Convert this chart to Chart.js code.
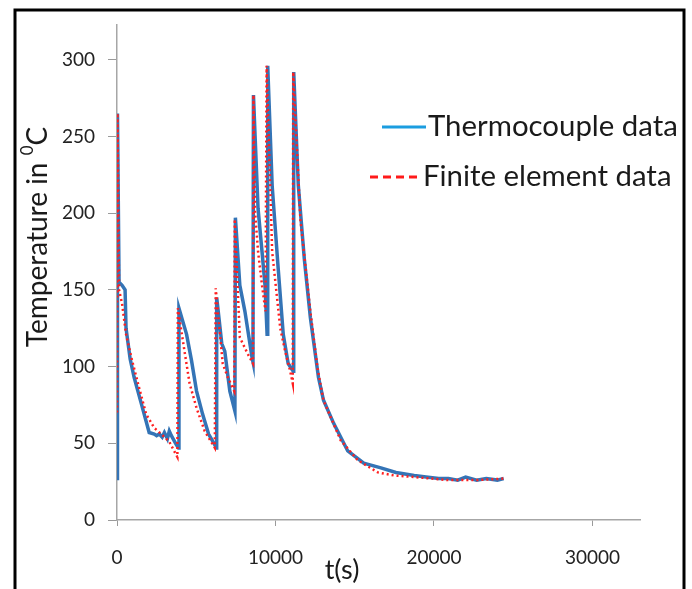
<!DOCTYPE html>
<html>
<head>
<meta charset="utf-8">
<script src="https://cdn.jsdelivr.net/npm/chart.js@4/dist/chart.umd.min.js"></script>
<style>
  html, body { margin: 0; padding: 0; background: #fff; }
  #wrap { width: 692px; height: 589px; position: relative; }
</style>
</head>
<body>
<div id="wrap"><canvas id="tempChart" width="692" height="589"></canvas></div>
<script>
// thermocouple measurements (time in s, temperature in C)
const tcTime = [0, 20, 40, 130, 320, 510, 570, 830, 1080, 1530,
  2030, 2350, 2500, 2670, 2850, 2990, 3180, 3300, 3430, 3750,
  3880, 3910, 4390, 4700, 5020, 5400, 5780, 6170, 6260, 6290,
  6610, 6800, 7120, 7440, 7470, 7750, 8070, 8520, 8580, 8610,
  8710, 8900, 9150, 9340, 9470, 9510, 9790, 10170, 10490, 10800,
  11120, 11150, 11440, 11820, 12200, 12710, 13030, 13670, 14560, 15570,
  16650, 17600, 18750, 19500, 20300, 20910, 21500, 22000, 22690, 23300,
  24000, 24400];
const tcTemp = [27, 186, 265, 155, 153, 150, 125, 105, 93, 76,
  57, 56, 55, 56, 54, 57, 53, 58, 55, 49,
  47, 138, 121, 104, 84, 69, 56, 49, 47, 145,
  115, 110, 84, 71, 197, 153, 136, 106, 103, 277,
  251, 203, 175, 153, 121, 296, 218, 164, 121, 102,
  97, 292, 218, 170, 132, 93, 78, 63, 45, 37,
  34, 31, 29, 28, 27, 27, 26, 28, 26, 27,
  26, 27];

// finite element results
const feTime = [0, 30, 130, 320, 570, 950, 1400, 1840, 2350, 2800,
  3300, 3810, 3840, 4260, 4580, 5020, 5530, 6170, 6230, 6670,
  6990, 7400, 7430, 7750, 8260, 8580, 8610, 8710, 8900, 9150,
  9370, 9440, 9790, 10300, 10610, 10930, 11090, 11120, 11570, 12200,
  12650, 13030, 14110, 15190, 16460, 17500, 18750, 20910, 22700, 24400];
const feTemp = [70, 265, 150, 141, 121, 104, 86, 69, 60, 56,
  51, 41, 138, 110, 89, 73, 58, 47, 151, 102,
  93, 84, 196, 119, 108, 102, 277, 201, 175, 153,
  136, 296, 175, 125, 110, 97, 89, 292, 196, 136,
  99, 78, 52, 39, 31, 29, 28, 26, 26, 27];

const xTicks = [0, 10000, 20000, 30000];
const yTicks = [0, 50, 100, 150, 200, 250, 300];
const seriesNames = ['Thermocouple data', 'Finite element data'];

const toPoints = (xs, ys) => xs.map((x, i) => ({ x: x, y: ys[i] }));

const FONT = 'Lato, "Liberation Sans", sans-serif';

// frame, axis titles and legend drawn on top
const decorations = {
  id: 'decorations',
  afterDraw(chart) {
    const ctx = chart.ctx;
    ctx.save();
    // black frame
    ctx.strokeStyle = '#000';
    ctx.lineWidth = 3;
    ctx.beginPath();
    ctx.moveTo(15, 589);
    ctx.lineTo(15, 10);
    ctx.lineTo(684, 10);
    ctx.lineTo(684, 589);
    ctx.stroke();

    ctx.fillStyle = '#1a1a1a';
    ctx.textBaseline = 'middle';

    // x title
    ctx.font = '27px ' + FONT;
    ctx.textAlign = 'center';
    ctx.fillText('t(s)', 342, 570);

    // y title with superscript
    ctx.save();
    ctx.translate(38, 237);
    ctx.rotate(-Math.PI / 2);
    ctx.textAlign = 'left';
    const main = 'Temperature in ';
    ctx.font = '28px ' + FONT;
    const w1 = ctx.measureText(main).width;
    const w3 = ctx.measureText('C').width;
    ctx.font = '17px ' + FONT;
    const w2 = ctx.measureText('0').width;
    let x0 = -(w1 + w2 + w3) / 2;
    ctx.font = '28px ' + FONT;
    ctx.fillText(main, x0, 0);
    ctx.font = '17px ' + FONT;
    ctx.fillText('0', x0 + w1, -10);
    ctx.font = '28px ' + FONT;
    ctx.fillText('C', x0 + w1 + w2, 0);
    ctx.restore();

    // legend
    ctx.textAlign = 'left';
    ctx.lineWidth = 3;
    ctx.strokeStyle = '#1b9de0';
    ctx.beginPath();
    ctx.moveTo(382, 127);
    ctx.lineTo(426, 127);
    ctx.stroke();
    ctx.strokeStyle = '#ff1a1a';
    ctx.setLineDash([8, 5]);
    ctx.beginPath();
    ctx.moveTo(370, 177);
    ctx.lineTo(418, 177);
    ctx.stroke();
    ctx.setLineDash([]);

    ctx.font = '25px ' + FONT;
    let s = 250 / ctx.measureText(seriesNames[0]).width;
    ctx.font = (25 * s).toFixed(1) + 'px ' + FONT;
    ctx.fillText(seriesNames[0], 428, 127);
    ctx.fillText(seriesNames[1], 423, 177);
    ctx.restore();
  }
};

const data = {
  datasets: [{
    label: seriesNames[0],
    data: toPoints(tcTime, tcTemp),
    borderColor: '#3474b6',
    borderWidth: 3.5,
    pointRadius: 0,
    tension: 0,
    order: 2
  }, {
    label: seriesNames[1],
    data: toPoints(feTime, feTemp),
    borderColor: '#ff1f1f',
    borderWidth: 2.5,
    borderDash: [2, 3],
    pointRadius: 0,
    tension: 0,
    order: 1
  }]
};

const config = {
  type: 'line',
  data: data,
  options: {
    responsive: false,
    animation: false,
    layout: { padding: { top: 0, right: 52, left: 0, bottom: 0 } },
    plugins: {
      legend: { display: false },
      tooltip: { enabled: false }
    },
    scales: {
      x: {
        type: 'linear',
        min: 0,
        max: 33000,
        afterBuildTicks: (scale) => { scale.ticks = xTicks.map(v => ({ value: v })); },
        afterFit: (scale) => { scale.height = 69; },
        grid: { drawOnChartArea: false, drawTicks: true, tickLength: 6, color: '#9a9a9a' },
        border: { color: '#a6a6a6', width: 1.5 },
        ticks: {
          padding: 20,
          maxRotation: 0,
          color: '#222',
          font: { family: FONT, size: 19 },
          callback: (v) => String(v)
        }
      },
      y: {
        min: 0,
        max: 323,
        afterBuildTicks: (scale) => { scale.ticks = yTicks.map(v => ({ value: v })); },
        afterFit: (scale) => { scale.width = 117; },
        grid: { drawOnChartArea: false, drawTicks: true, tickLength: 9, color: '#9a9a9a' },
        border: { color: '#a6a6a6', width: 1.5 },
        ticks: {
          padding: 13,
          color: '#222',
          font: { family: FONT, size: 19 },
          callback: (v) => String(v)
        }
      }
    }
  },
  plugins: [decorations]
};

new Chart(document.getElementById('tempChart'), config);
</script>
</body>
</html>
